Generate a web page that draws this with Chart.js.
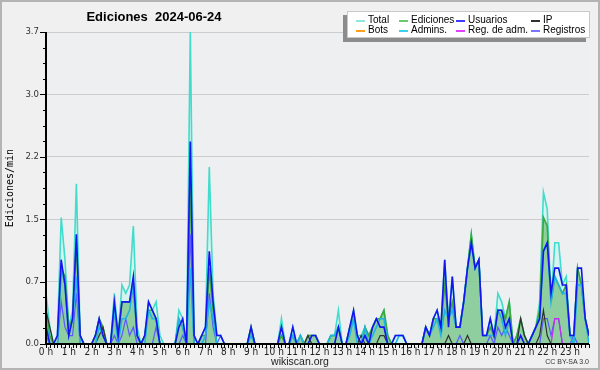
<!DOCTYPE html>
<html>
<head>
<meta charset="utf-8">
<script src="https://cdn.jsdelivr.net/npm/chart.js@4/dist/chart.umd.min.js"></script>
<style>
  html, body { margin: 0; padding: 0; background: #fff; }
  #wrap { position: relative; width: 600px; height: 370px; background: #f0f0f0; overflow: hidden; }
  #wrap canvas { position: absolute; left: 0; top: 0; }
  .frame { position: absolute; left: 0; top: 0; width: 600px; height: 370px; box-sizing: border-box;
    border: 2px solid #b4b4b4; pointer-events: none; }
  .txt { position: absolute; white-space: nowrap; font-family: "Liberation Sans", sans-serif; color: #000; }
  #title { left: 0; width: 308px; top: 9px; text-align: center; font-weight: bold; font-size: 13px; }
  #site { left: 250px; width: 100px; top: 355px; text-align: center; font-size: 10.5px; color: #222; }
  #lic { right: 11px; top: 358px; font-size: 7px; color: #333; }
  #legend { position: absolute; left: 347px; top: 11px; width: 243px; height: 27px; background: #fff;
    border: 1px solid #c8c8c8; box-sizing: border-box; box-shadow: -4px 4px 0 #8c8c8c; }
  .item { position: absolute; height: 10px; font-size: 10px; line-height: 10px; }
  .item i { position: absolute; left: 0; top: 5px; width: 9px; height: 1.5px; }
  .item span { position: absolute; left: 12px; top: 0; }
</style>
</head>
<body>
<div id="wrap">
  <canvas id="chart" width="600" height="370"></canvas>
  <div class="txt" id="title">Ediciones&nbsp;&nbsp;2024-06-24</div>
  <div id="legend"></div>
  <div class="txt" id="site">wikiscan.org</div>
  <div class="txt" id="lic">CC BY-SA 3.0</div>
  <div class="frame"></div>
</div>
<script>
// 10-minute bins over the day, values in edits per minute
const hourLabels = ["0 h", "1 h", "2 h", "3 h", "4 h", "5 h", "6 h", "7 h", "8 h", "9 h", "10 h", "11 h",
  "12 h", "13 h", "14 h", "15 h", "16 h", "17 h", "18 h", "19 h", "20 h", "21 h", "22 h", "23 h"]
const yTickLabels = ["0.0", "0.7", "1.5", "2.2", "3.0", "3.7"]
const yMax = 3.7

const total = [
  .6, .2, 0, .1, 1.5, 1.0,  .2, .4, 1.9, .1, 0, 0,  0, .1, .3, .2, 0, 0,  .6, .1, .7, .6, .7, 1.4,
  .2, 0, .1, .5, .4, .5,  .1, 0, 0, 0, 0, .4,  .3, 0, 3.7, .1, 0, .1,  .2, 2.1, .6, .1, .1, 0,
  0, 0, 0, 0, 0, 0,  .2, 0, 0, 0, 0, 0,  0, 0, .3, 0, 0, .2,  0, .1, 0, .1, .1, .1,
  0, 0, 0, .1, .1, .4,  0, 0, .2, .4, .1, .1,  .2, .1, .2, .3, .3, .4,  .1, 0, .1, .1, .1, 0,
  0, 0, 0, 0, .2, .1,  .3, .4, .2, 1.0, .3, .8,  .2, .2, .5, .9, 1.3, .9,  1.0, .1, .1, .3, .1, .6,
  .5, .3, .5, 0, .1, .3,  .1, 0, .1, .2, .5, 1.8,  1.6, .5, 1.2, 1.2, .7, .8,  .1, .1, .9, .7, .3, .1,
]
const ediciones = [
  .4, .1, 0, 0, .9, .8,  .2, .3, 1.2, .1, 0, 0,  0, .1, .3, .2, 0, 0,  .4, .1, .5, .5, .5, .7,
  .1, 0, .1, .4, .4, .3,  0, 0, 0, 0, 0, .3,  .2, 0, 1.9, 0, 0, .1,  .1, .9, .4, 0, 0, 0,
  0, 0, 0, 0, 0, 0,  .2, 0, 0, 0, 0, 0,  0, 0, .1, 0, 0, .1,  0, .1, 0, .1, .1, .1,
  0, 0, 0, .1, .1, .2,  0, 0, .2, .3, .1, 0,  .2, .1, .2, .3, .3, .4,  .1, 0, 0, 0, 0, 0,
  0, 0, 0, 0, .2, .1,  .3, .3, .2, .7, .3, .5,  .2, .2, .5, .9, 1.3, .9,  1.0, .1, .1, .2, .1, .4,
  .4, .3, .5, 0, .1, .3,  .1, 0, .1, .2, .4, 1.5,  1.4, .5, .8, .7, .6, .7,  .1, .1, .9, .7, .3, .1,
]
const usuarios = [
  .2, 0, 0, .1, 1.0, .7,  .1, .3, 1.3, .1, 0, 0,  0, .1, .3, .1, 0, 0,  .5, .1, .5, .5, .5, .8,
  .1, 0, .1, .5, .4, .3,  0, 0, 0, 0, 0, .2,  .3, 0, 2.4, .1, 0, .1,  .2, 1.1, .5, .1, .1, 0,
  0, 0, 0, 0, 0, 0,  .2, 0, 0, 0, 0, 0,  0, 0, .2, 0, 0, .2,  0, 0, 0, 0, .1, .1,
  0, 0, 0, 0, 0, .2,  0, 0, .2, .4, .1, 0,  .1, 0, .2, .3, .2, .2,  0, 0, .1, .1, .1, 0,
  0, 0, 0, 0, .2, .1,  .3, .4, .2, 1.0, .2, .8,  .2, .2, .5, .9, 1.2, .9,  1.0, .1, .1, .3, .1, .4,
  .4, .2, .3, 0, 0, .1,  0, 0, .1, .2, .3, 1.1,  1.2, .6, .9, .9, .7, .7,  .1, .1, .9, .9, .3, .1,
]
const ip = [
  .4, .2, 0, 0, 0, 0,  0, 0, 0, 0, 0, 0,  0, 0, .1, .2, 0, 0,  0, 0, 0, 0, 0, 0,
  0, 0, 0, 0, 0, 0,  0, 0, 0, 0, 0, 0,  0, 0, 0, 0, 0, 0,  0, 0, 0, 0, 0, 0,
  0, 0, 0, 0, 0, 0,  0, 0, 0, 0, 0, 0,  0, 0, 0, 0, 0, 0,  0, 0, 0, .1, 0, 0,
  0, 0, 0, 0, 0, 0,  0, 0, 0, 0, 0, .1,  0, 0, 0, 0, .1, .1,  0, 0, 0, 0, 0, 0,
  0, 0, 0, 0, 0, 0,  0, 0, 0, 0, .1, 0,  0, 0, 0, .1, 0, 0,  0, 0, 0, 0, 0, 0,
  0, 0, 0, 0, 0, .3,  .1, 0, 0, 0, .1, .4,  .1, 0, 0, 0, 0, 0,  0, 0, 0, 0, 0, 0,
]
const bots = new Array(144).fill(0)
const admins = [
  .3, 0, 0, 0, .9, .7,  .1, .3, .8, 0, 0, 0,  0, 0, .2, .1, 0, 0,  .4, 0, .3, .3, .4, .7,
  .1, 0, 0, .4, .3, .3,  0, 0, 0, 0, 0, .3,  .2, 0, .9, 0, 0, 0,  .1, .5, .3, 0, 0, 0,
  0, 0, 0, 0, 0, 0,  .1, 0, 0, 0, 0, 0,  0, 0, .2, 0, 0, .1,  0, .1, 0, 0, 0, 0,
  0, 0, 0, .1, .1, .2,  0, 0, .1, .3, 0, 0,  .2, 0, .1, .2, .3, .3,  0, 0, 0, .1, .1, 0,
  0, 0, 0, 0, .2, .1,  .2, .3, .1, .4, .3, .4,  .2, .2, .5, .9, 1.2, .9,  1.0, .1, .1, .1, .1, .4,
  .3, .1, .3, 0, 0, 0,  0, 0, .1, .2, .3, 1.1,  1.2, .5, .8, .7, .6, .6,  .1, 0, .7, .7, .3, 0,
]
const regAdm = [
  0, 0, 0, 0, 0, 0,  0, 0, 0, 0, 0, 0,  0, 0, 0, 0, 0, 0,  0, 0, 0, 0, 0, 0,
  0, 0, 0, 0, 0, 0,  0, 0, 0, 0, 0, 0,  0, 0, 0, 0, 0, 0,  0, 0, 0, 0, 0, 0,
  0, 0, 0, 0, 0, 0,  0, 0, 0, 0, 0, 0,  0, 0, 0, 0, 0, 0,  0, 0, 0, 0, 0, 0,
  0, 0, 0, 0, 0, 0,  0, 0, 0, 0, 0, 0,  0, 0, 0, 0, 0, 0,  0, 0, 0, 0, 0, 0,
  0, 0, 0, 0, 0, 0,  0, 0, 0, 0, 0, 0,  0, 0, 0, 0, 0, 0,  0, 0, 0, 0, 0, 0,
  0, 0, 0, 0, 0, 0,  0, 0, 0, 0, 0, 0,  0, 0, .3, .3, 0, 0,  0, 0, 0, 0, 0, 0,
]
const registros = [
  .1, 0, 0, 0, .5, .2,  .1, .1, .6, 0, 0, 0,  0, 0, 0, 0, 0, 0,  .1, 0, .1, .3, .1, .2,
  0, 0, 0, 0, 0, .2,  0, 0, 0, 0, 0, 0,  .1, 0, 1.3, 0, 0, 0,  0, .6, .2, 0, .1, 0,
  0, 0, 0, 0, 0, 0,  0, 0, 0, 0, 0, 0,  0, 0, 0, 0, 0, 0,  0, 0, 0, 0, 0, 0,
  0, 0, 0, 0, 0, 0,  0, 0, 0, 0, 0, 0,  0, 0, 0, 0, 0, 0,  0, 0, 0, 0, 0, 0,
  0, 0, 0, 0, 0, 0,  0, 0, 0, 0, 0, 0,  0, .1, 0, 0, 0, 0,  0, 0, 0, .1, 0, .2,
  .1, .2, .1, 0, 0, 0,  0, 0, 0, 0, 0, .3,  .3, .1, .3, .3, 0, 0,  0, .1, 0, 0, 0, 0,
]

const bins = total.map((_, i) => i)

/** @type {{label: string, data: number[], color: string, key: string}[]} */
const series = [
  {label: "Total", data: total, color: "#40dccc", key: "#8ee8e0"},
  {label: "Ediciones", data: ediciones, color: "#3aa83a", key: "#6cc86c"},
  {label: "Usuarios", data: usuarios, color: "#1414f0", key: "#3c3cff"},
  {label: "IP", data: ip, color: "#303030", key: "#303030"},
  {label: "Bots", data: bots, color: "#ffa020", key: "#ffa020"},
  {label: "Admins.", data: admins, color: "#1eb4e6", key: "#3cd0f0"},
  {label: "Reg. de adm.", data: regAdm, color: "#c828f0", key: "#e040ff"},
  {label: "Registros", data: registros, color: "#5a5aff", key: "#7878ff"},
]

// draw order: fills at the back, users on top
const drawOrder = {"Total": 10, "Ediciones": 9, "Bots": 8, "Registros": 6, "Reg. de adm.": 5, "IP": 4, "Admins.": 3, "Usuarios": 2}

const datasets = series.map((s) => ({
  label: s.label,
  data: s.data,
  borderColor: s.color,
  borderWidth: s.label === "IP" || s.label === "Registros" || s.label === "Reg. de adm." ? 1.2 : 1.6,
  fill: s.label === "Total" || s.label === "Ediciones" ? "origin" : false,
  backgroundColor: s.label === "Total" ? "rgba(205,246,238,0.75)" : "rgba(72,168,80,0.5)",
  order: drawOrder[s.label],
  pointRadius: 0,
  tension: 0,
}))

const axisFont = {family: "'DejaVu Sans Condensed', 'Liberation Sans', sans-serif", size: 10}

const frame = {
  id: "frame",
  beforeDraw(chart) {
    const {ctx, chartArea: a} = chart
    ctx.save()
    ctx.fillStyle = "#eeeff1"
    ctx.fillRect(a.left, a.top, a.right - a.left, a.bottom - a.top)
    ctx.restore()
  },
  afterDatasetsDraw(chart) {
    const {ctx, chartArea: a, scales} = chart
    const x = scales.x
    const y = scales.y
    ctx.save()
    ctx.strokeStyle = "#000"
    ctx.lineWidth = 1
    for (let k = 0; k <= 20; k++) {
      const py = Math.round(y.getPixelForValue((k * yMax) / 20)) + 0.5
      const len = k % 4 === 0 ? 6 : 3
      ctx.beginPath()
      ctx.moveTo(a.left - len, py)
      ctx.lineTo(a.left, py)
      ctx.stroke()
    }
    for (const i of bins) {
      const px = Math.round(x.getPixelForValue(i)) + 0.5
      ctx.beginPath()
      ctx.moveTo(px, a.bottom)
      ctx.lineTo(px, a.bottom + 4)
      ctx.stroke()
    }
    ctx.lineWidth = 2
    ctx.beginPath()
    ctx.moveTo(a.left, a.top)
    ctx.lineTo(a.left, a.bottom)
    ctx.lineTo(a.right, a.bottom)
    ctx.stroke()
    ctx.restore()
  },
}

new Chart(document.getElementById("chart").getContext("2d"), {
  type: "line",
  data: {labels: bins, datasets},
  plugins: [frame],
  options: {
    animation: false,
    responsive: false,
    layout: {padding: {left: 0, right: 11, top: 32, bottom: 0}},
    plugins: {legend: {display: false}, title: {display: false}, tooltip: {enabled: false}},
    scales: {
      x: {
        type: "linear",
        min: 0,
        max: bins.length - 1,
        grid: {display: false, drawTicks: false},
        border: {display: false},
        afterBuildTicks: (s) => {
          s.ticks = hourLabels.map((_, h) => ({value: h * 6}))
        },
        ticks: {
          autoSkip: false,
          maxRotation: 0,
          padding: 2,
          color: "#222",
          font: axisFont,
          callback: (v) => hourLabels[Math.round(v / 6)],
        },
        afterFit: (s) => {
          s.height = 26
        },
      },
      y: {
        min: 0,
        max: yMax,
        afterBuildTicks: (s) => {
          const t = []
          for (let k = 0; k <= 20; k++) t.push({value: (k * yMax) / 20})
          s.ticks = t
        },
        grid: {
          drawTicks: false,
          color: (c) => (c.index % 4 === 0 && c.index > 0 ? "#cccccc" : "rgba(0,0,0,0)"),
        },
        border: {display: false},
        ticks: {
          padding: 7,
          color: "#333",
          font: {...axisFont, size: 9.5},
          callback: (v, i) => (i % 4 === 0 ? yTickLabels[i / 4] : ""),
        },
        title: {
          display: true,
          text: "Ediciones/min",
          color: "#000",
          font: {family: "'DejaVu Sans Mono', monospace", size: 10},
          padding: {top: 4, bottom: 0},
        },
        afterFit: (s) => {
          s.width = 46
        },
      },
    },
  },
})

// legend box, two rows of four
const legendBox = document.getElementById("legend")
const colX = [8, 51, 108, 183]
series.forEach((s, n) => {
  const item = document.createElement("div")
  item.className = "item txt"
  item.style.left = colX[n % 4] + "px"
  item.style.top = (n < 4 ? 3 : 13) + "px"
  item.innerHTML = `<i style="background:${s.key}"></i><span>${s.label}</span>`
  legendBox.appendChild(item)
})
</script>
</body>
</html>
